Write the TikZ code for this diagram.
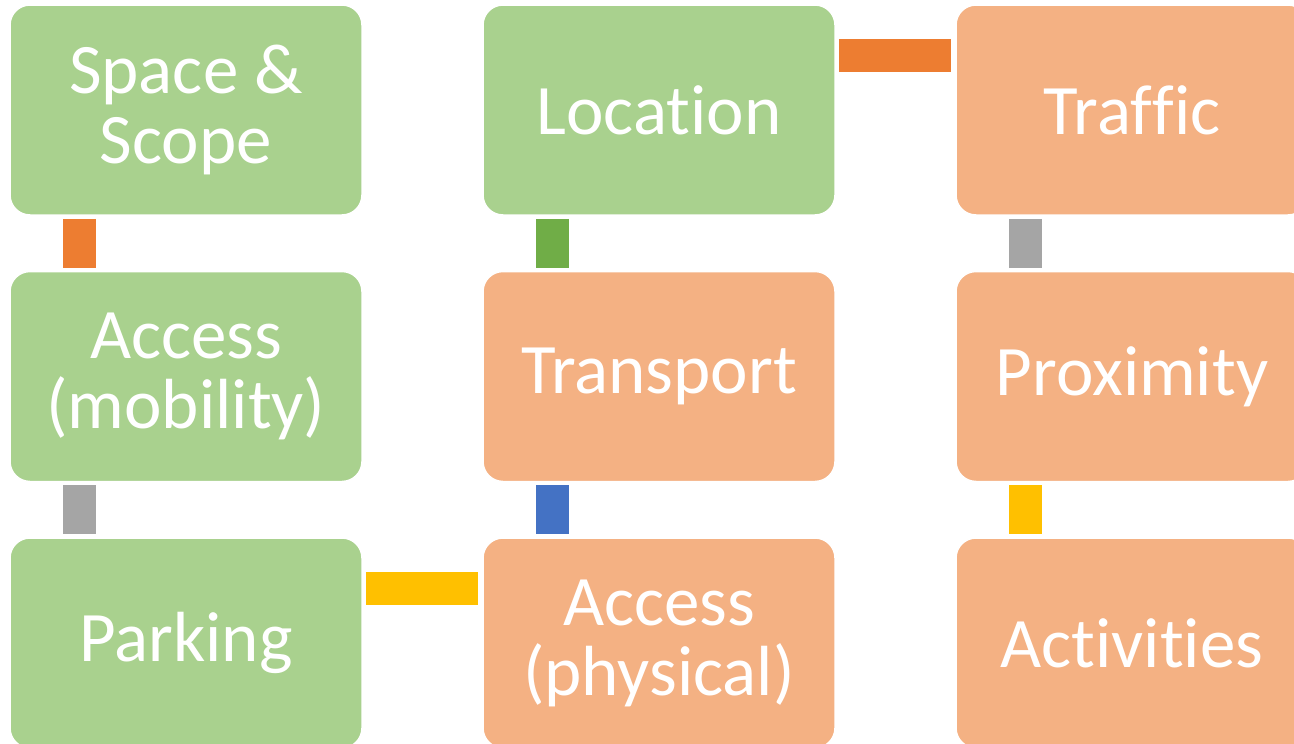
\documentclass[tikz,border=0pt]{standalone}
\usepackage{fontspec}
\setmainfont[RawFeature={-liga;-clig;-calt;-dlig}]{Carlito}
\newcommand{\nl}{\kern0pt }
\definecolor{boxgreen}{HTML}{A9D18E}
\definecolor{boxorange}{HTML}{F4B183}
\definecolor{barorange}{HTML}{ED7D31}
\definecolor{bargrey}{HTML}{A5A5A5}
\definecolor{bargreen}{HTML}{70AD47}
\definecolor{barblue}{HTML}{4472C4}
\definecolor{baryellow}{HTML}{FFC000}
\tikzset{
  card/.style={draw=white, line width=1.5pt, rounded corners=20pt,
    minimum width=352pt, minimum height=210pt, inner sep=0pt,
    text=white, align=center,
    font=\fontsize{71}{70}\selectfont},
  gcard/.style={card, fill=boxgreen},
  ocard/.style={card, fill=boxorange},
  vbar/.style={line width=33pt, shorten >=3pt, shorten <=3pt},
  hbar/.style={line width=33pt, shorten >=4pt, shorten <=3pt}
}
\begin{document}
\begin{tikzpicture}[x=1pt,y=1pt]
\useasboundingbox (0,0) rectangle (1294,-744);
\clip (0,0) rectangle (1294,-744);
% column 1
\node[gcard] (space) at (186,-110) {Space \&\\Scope};
\node[gcard] (accm) at (186,-376.5) {Access\\(mobility)};
\node[gcard] (park) at (186,-643) {Parking};
% column 2
\node[gcard] (loc) at (659,-110) {Locat\nl ion};
\node[ocard] (trans) at (659,-376.5) {Transport};
\node[ocard] (accp) at (659,-643) {Access\\(physical)};
% column 3
\node[ocard] (traf) at (1132,-110) {Traf\nl f\nl ic};
\node[ocard] (prox) at (1132,-376.5) {Proximity};
\node[ocard] (act) at (1132,-643) {Act\nl ivit\nl ies};
% vertical connectors
\draw[vbar, barorange] ([xshift=70.5pt]space.south west) -- ([xshift=70.5pt]accm.north west);
\draw[vbar, bargrey] ([xshift=70.5pt]accm.south west) -- ([xshift=70.5pt]park.north west);
\draw[vbar, bargreen] ([xshift=70.5pt]loc.south west) -- ([xshift=70.5pt]trans.north west);
\draw[vbar, barblue] ([xshift=70.5pt]trans.south west) -- ([xshift=70.5pt]accp.north west);
\draw[vbar, bargrey] ([xshift=70.5pt]traf.south west) -- ([xshift=70.5pt]prox.north west);
\draw[vbar, baryellow] ([xshift=70.5pt]prox.south west) -- ([xshift=70.5pt]act.north west);
% horizontal connectors
\draw[hbar, barorange] ([yshift=-51pt]loc.north east) -- ([yshift=-51pt]traf.north west);
\draw[hbar, baryellow] ([yshift=-51pt]park.north east) -- ([yshift=-51pt]accp.north west);
\end{tikzpicture}
\end{document}
